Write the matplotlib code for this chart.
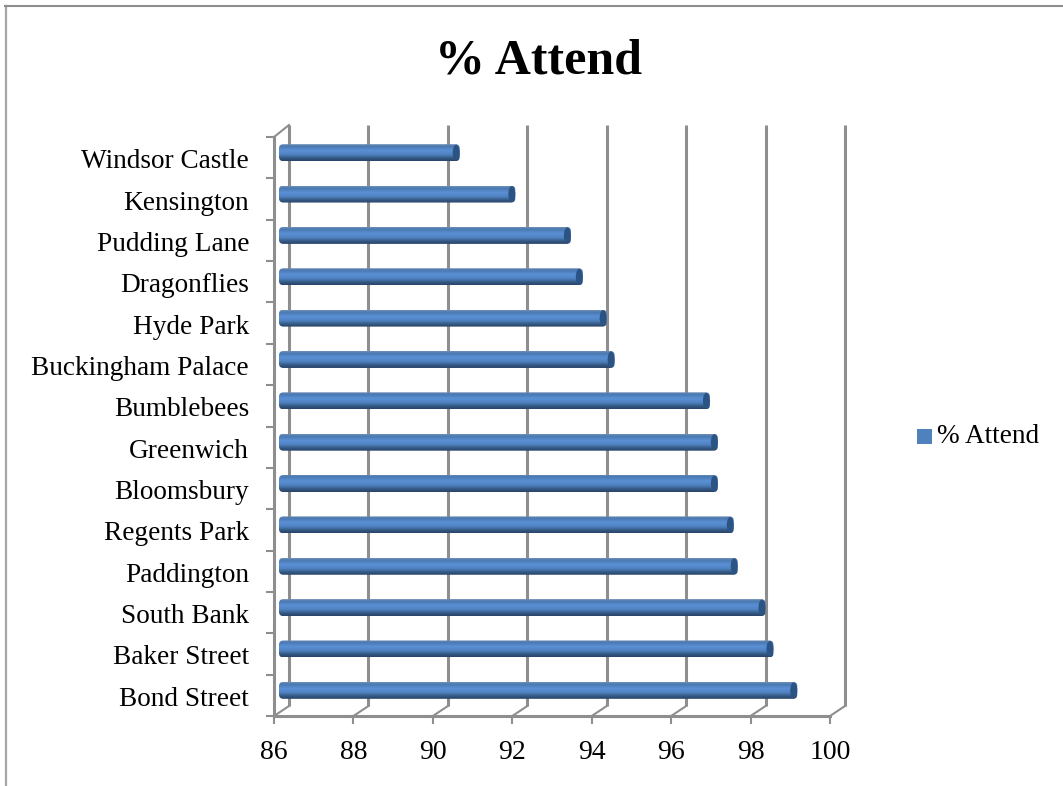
import matplotlib
matplotlib.use("Agg")
import matplotlib.pyplot as plt
import matplotlib.transforms as mtransforms
import numpy as np
from matplotlib.colors import LinearSegmentedColormap
from matplotlib.patches import Ellipse, FancyBboxPatch

# bottom to top, same as the chart
categories = ["Bond Street", "Baker Street", "South Bank", "Paddington", "Regents Park",
              "Bloomsbury", "Greenwich", "Bumblebees", "Buckingham Palace", "Hyde Park",
              "Dragonflies", "Pudding Lane", "Kensington", "Windsor Castle"]
attend = [99.0, 98.4, 98.2, 97.5, 97.4, 97.0, 97.0, 96.8, 94.4, 94.2, 93.6, 93.3, 91.9, 90.5]
x_ticks = [86, 88, 90, 92, 94, 96, 98, 100]
series_name = "% Attend"

plt.rcParams["font.family"] = ["Liberation Serif", "DejaVu Serif"]

W, H = 1063, 786
GREY = "#8e8e8e"
DX, DY = 15, 10  # depth of the fake 3d box, px
BAR_DX, BAR_DY = 7, 5
LABEL_SIZE = 19.6

fig = plt.figure(figsize=(W / 100, H / 100), dpi=100)
left, right, top, bottom = 274, 830, 137, 716
ax = fig.add_axes([left / W, 1 - bottom / H, (right - left) / W, (bottom - top) / H])
ax.set_xlim(86, 100)
ax.set_ylim(0, len(categories))
for spine in ax.spines.values():
    spine.set_visible(False)
ax.patch.set_alpha(0)

# chart frame: only left and top are inside the picture
fig.add_artist(plt.Line2D([6 / W, 6 / W], [0, 1 - 6 / H], color="#a6a6a6", lw=1.6))
fig.add_artist(plt.Line2D([5 / W, 1], [1 - 6 / H, 1 - 6 / H], color=GREY, lw=1.5))


def shifted(dx, dy):
    return ax.transData + mtransforms.ScaledTranslation(dx / 100, dy / 100, fig.dpi_scale_trans)


n = len(categories)
ys = np.arange(n) + 0.5
px_x = (right - left) / 14
px_y = (bottom - top) / n

# back wall gridlines and the slanted floor pieces
for value in x_ticks:
    ax.plot([value, value], [0, n + 2 / px_y], color=GREY, lw=2.2, transform=shifted(DX, DY), clip_on=False,
            solid_capstyle="butt", zorder=1)
    x0 = ax.transData.transform((value, 0))
    ax.plot(*ax.transData.inverted().transform([x0, x0 + [DX, DY]]).T, color=GREY, lw=1.5, clip_on=False, zorder=1)

# top-left slant of the category axis
p0 = ax.transData.transform((86, n))
ax.plot(*ax.transData.inverted().transform([p0, p0 + [DX, DY + 2]]).T, color=GREY, lw=1.5, clip_on=False, zorder=1)

ax.plot([86, 100], [0, 0], color=GREY, lw=2.2, clip_on=False, zorder=2)
ax.plot([86, 86], [0, n], color=GREY, lw=2.2, clip_on=False, zorder=2)

ax.set_xticks(x_ticks)
ax.set_yticks(np.arange(n + 1))
ax.set_yticklabels([])
ax.tick_params(axis="x", length=5.5, width=1.5, color=GREY, labelsize=20, pad=12, labelcolor="black")
ax.tick_params(axis="y", length=5.5, width=1.5, color=GREY)

for y, name in zip(ys, categories):
    ax.annotate(name, xy=(86, y), xytext=(-25, -4), textcoords="offset pixels", ha="right", va="center",
                fontsize=LABEL_SIZE, color="black")

# cylinders: vertical gradient clipped to a rounded bar, plus a dark end cap
cyl_cmap = LinearSegmentedColormap.from_list(
    "cyl", [(0, "#6f8fb8"), (0.12, "#4a78b0"), (0.38, "#5a90d6"), (0.62, "#4f82c0"), (0.85, "#32567f"), (1, "#2a4468")])
gradient = np.linspace(0, 1, 64).reshape(-1, 1)
half = 8.5 / px_y
for y, value in zip(ys, attend):
    trans = shifted(BAR_DX, BAR_DY)
    start = 86 - 2 / px_x
    im = ax.imshow(gradient, extent=(start, value, y - half, y + half), cmap=cyl_cmap, aspect="auto",
                   origin="upper", transform=trans, zorder=3, clip_on=True)
    clip = FancyBboxPatch((start, y - half), value - start, 2 * half,
                          boxstyle="round,pad=0,rounding_size=0.11", mutation_aspect=px_x / px_y,
                          transform=trans, facecolor="none", edgecolor="none")
    ax.add_patch(clip)
    im.set_clip_path(clip)
    ax.add_patch(Ellipse((value - 3.5 / px_x, y), 7 / px_x, 2 * half - 1 / px_y, transform=trans,
                         facecolor="#2b5384", edgecolor="none", zorder=4, clip_on=False))

ax.set_xlim(86, 100)
ax.set_ylim(0, n)

fig.text(539 / W, 1 - 62 / H, series_name, ha="center", va="center", fontsize=36, fontweight="bold", color="black")

# legend
fig.patches.append(plt.Rectangle((917 / W, 1 - 444 / H), 15 / W, 15 / H, transform=fig.transFigure,
                                 facecolor="#4f81bd", edgecolor="none"))
fig.text(937 / W, 1 - 437 / H, series_name, ha="left", va="center", fontsize=LABEL_SIZE, color="black")

fig.savefig("out.png", dpi=100)
